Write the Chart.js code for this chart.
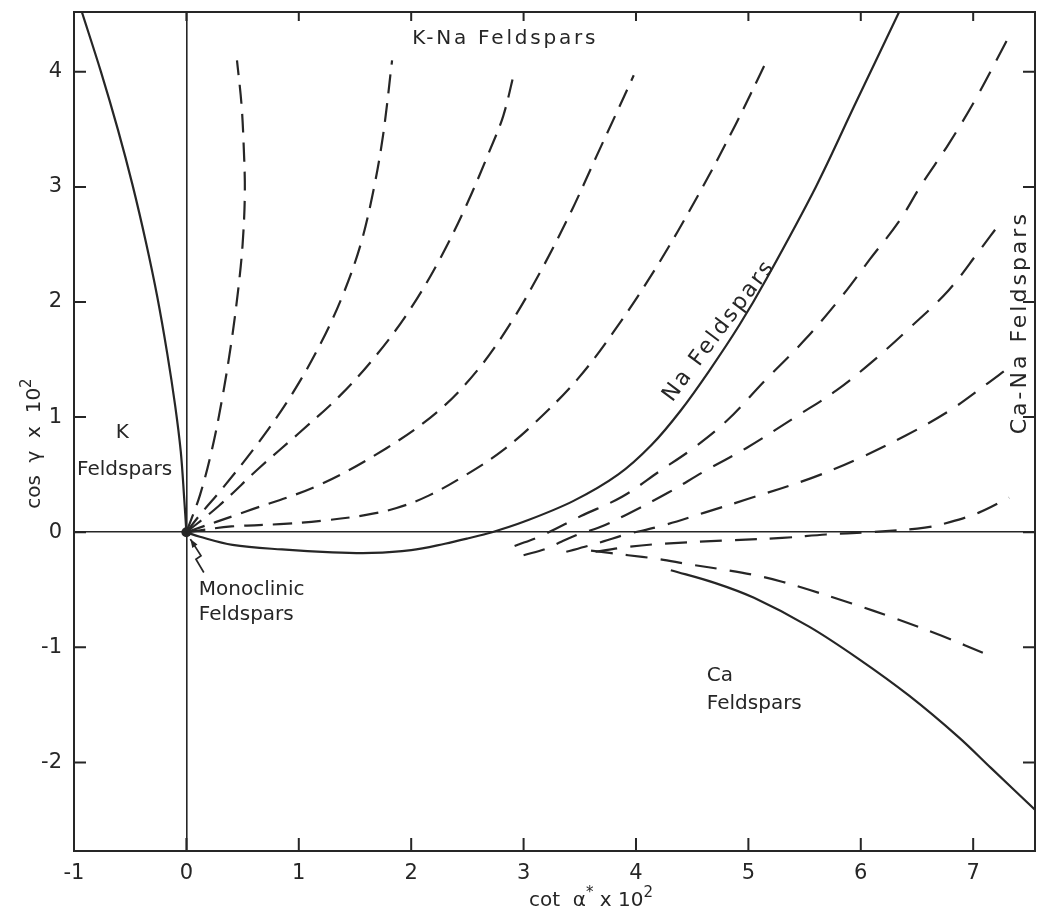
<!DOCTYPE html>
<html>
<head>
<meta charset="utf-8">
<script src="https://cdn.jsdelivr.net/npm/chart.js@4.4.0/dist/chart.umd.min.js"></script>
<style>
  html, body { margin: 0; padding: 0; background: #fff; }
</style>
</head>
<body>
<canvas id="feldsparChart" width="1040" height="912"></canvas>
<script>
// tick values on both axes
var xTicks = [-1, 0, 1, 2, 3, 4, 5, 6, 7];
var yTicks = [-2, -1, 0, 1, 2, 3, 4];

// solid boundary curves, [cot a* x 10^2, cos y x 10^2]
var kFeldspars = [[-0.93, 4.52], [-0.76, 4.0], [-0.61, 3.5], [-0.48, 3.02], [-0.36, 2.52], [-0.26, 2.05], [-0.17, 1.55], [-0.1, 1.1], [-0.05, 0.7], [-0.02, 0.3], [0, 0]];
var naFeldspars = [[0, 0], [0.12, -0.04], [0.41, -0.11], [0.85, -0.15], [1.3, -0.175], [1.65, -0.18], [2.0, -0.155], [2.3, -0.1], [2.5, -0.055], [2.72, 0], [3.0, 0.09], [3.44, 0.27], [3.84, 0.50], [4.14, 0.76], [4.4, 1.06], [4.65, 1.4], [4.92, 1.8], [5.16, 2.2], [5.6, 3.0], [5.95, 3.72], [6.38, 4.6]];
var caFeldspars = [[4.31, -0.33], [4.7, -0.44], [5.05, -0.57], [5.54, -0.82], [5.98, -1.1], [6.43, -1.42], [6.87, -1.78], [7.16, -2.05], [7.56, -2.42]];

// dashed K-Na series fanning out of the origin
var knA = [[0, 0], [0.12, 0.32], [0.23, 0.73], [0.32, 1.17], [0.4, 1.65], [0.46, 2.1], [0.5, 2.5], [0.52, 2.95], [0.51, 3.35], [0.49, 3.72], [0.45, 4.1]];
var knB = [[0, 0], [0.12, 0.15], [0.32, 0.38], [0.65, 0.79], [0.94, 1.2], [1.2, 1.65], [1.4, 2.08], [1.55, 2.5], [1.66, 2.95], [1.75, 3.45], [1.83, 4.1]];
var knC = [[0, 0], [0.29, 0.23], [0.65, 0.56], [1.0, 0.86], [1.36, 1.18], [1.7, 1.55], [2.0, 1.95], [2.27, 2.4], [2.5, 2.86], [2.7, 3.32], [2.82, 3.62], [2.92, 4.01]];
var knD = [[0, 0], [0.53, 0.18], [1.18, 0.41], [1.78, 0.73], [2.25, 1.06], [2.6, 1.42], [2.9, 1.84], [3.17, 2.3], [3.43, 2.8], [3.65, 3.27], [3.83, 3.65], [3.98, 3.97]];
var knE = [[0, 0], [0.4, 0.05], [0.83, 0.07], [1.21, 0.10], [1.6, 0.15], [1.87, 0.21], [2.16, 0.32], [2.49, 0.5], [2.8, 0.7], [3.1, 0.95], [3.48, 1.33], [3.8, 1.74], [4.18, 2.3], [4.56, 2.94], [4.89, 3.55], [5.14, 4.05]];

// dashed Ca-Na series on the right
var cnF = [[2.92, -0.12], [3.16, -0.03], [3.51, 0.14], [3.88, 0.31], [4.21, 0.53], [4.51, 0.73], [4.81, 0.97], [5.14, 1.31], [5.51, 1.68], [5.84, 2.06], [6.08, 2.37], [6.34, 2.7], [6.54, 3.02], [6.78, 3.37], [7.02, 3.76], [7.32, 4.31]];
var cnG = [[3.0, -0.2], [3.21, -0.14], [3.34, -0.08], [3.51, -0.01], [3.67, 0.04], [3.91, 0.15], [4.28, 0.34], [4.61, 0.53], [4.98, 0.73], [5.45, 1.02], [5.78, 1.23], [6.1, 1.48], [6.43, 1.77], [6.78, 2.1], [7.05, 2.44], [7.25, 2.7]];
var cnH = [[3.38, -0.17], [3.57, -0.12], [3.71, -0.08], [3.91, -0.02], [4.21, 0.05], [4.61, 0.17], [5.0, 0.29], [5.56, 0.47], [5.98, 0.64], [6.4, 0.84], [6.78, 1.05], [7.11, 1.28], [7.29, 1.41]];
var cnI = [[3.64, -0.17], [3.91, -0.13], [4.24, -0.1], [4.85, -0.07], [5.3, -0.05], [5.69, -0.02], [6.07, 0], [6.57, 0.04], [6.8, 0.09], [7.05, 0.17], [7.32, 0.3]];
var cnJ = [[3.6, -0.16], [3.93, -0.2], [4.18, -0.23], [4.48, -0.28], [4.81, -0.33], [5.09, -0.38], [5.3, -0.43], [5.54, -0.5], [5.92, -0.62], [6.31, -0.75], [6.72, -0.9], [7.14, -1.07]];

var ink = '#262626';
var fontFamily = '"DejaVu Sans", sans-serif';

function pts(arr) {
    return arr.map(function (p) { return { x: p[0], y: p[1] }; });
}

function curve(arr, dash) {
    return {
        data: pts(arr),
        showLine: true,
        borderColor: ink,
        borderWidth: 2.2,
        borderDash: dash || [],
        pointRadius: 0,
        tension: 0.35,
        fill: false
    };
}

var fanDash = [19, 10];
var rightDash = [22, 13];

var datasets = [
    curve(kFeldspars), curve(naFeldspars), curve(caFeldspars),
    curve(knA, fanDash), curve(knB, fanDash), curve(knC, fanDash), curve(knD, fanDash), curve(knE, fanDash),
    curve(cnF, rightDash), curve(cnG, rightDash), curve(cnH, rightDash), curve(cnI, rightDash), curve(cnJ, rightDash),
    { data: [{ x: 0, y: 0 }], pointRadius: 5, pointBackgroundColor: ink, pointBorderWidth: 0, showLine: false }
];

// text placed in data units
var notes = [
    { text: 'K-Na Feldspars', x: 2.01, y: 4.29, align: 'left', spacing: '2.8px' },
    { text: 'K', x: -0.57, y: 0.86, align: 'center' },
    { text: 'Feldspars', x: -0.55, y: 0.54, align: 'center' },
    { text: 'Monoclinic', x: 0.11, y: -0.5, align: 'left' },
    { text: 'Feldspars', x: 0.11, y: -0.72, align: 'left' },
    { text: 'Ca', x: 4.63, y: -1.25, align: 'left' },
    { text: 'Feldspars', x: 4.63, y: -1.49, align: 'left' },
    { text: 'Na Feldspars', x: 4.74, y: 1.75, align: 'center', angle: -53, spacing: '2.5px', size: 22 },
    { text: 'Ca-Na Feldspars', x: 7.42, y: 1.82, align: 'center', angle: -90, spacing: '3px', size: 22 }
];
var arrowPath = [[0.155, -0.35], [0.085, -0.235], [0.13, -0.205], [0.035, -0.06]];

function drawRich(c, parts, x, y) {
    // parts: [text, raised?]; x is the centre of the whole string
    var total = 0;
    parts.forEach(function (p) {
        c.font = (p[1] ? '15px ' : '20px ') + fontFamily;
        total += c.measureText(p[0]).width;
    });
    var cx = x - total / 2;
    parts.forEach(function (p) {
        c.font = (p[1] ? '15px ' : '20px ') + fontFamily;
        c.fillText(p[0], cx, p[1] ? y - 9 : y);
        cx += c.measureText(p[0]).width;
    });
}

var decorations = {
    id: 'decorations',
    afterDraw: function (chart) {
        var c = chart.ctx, a = chart.chartArea, xs = chart.scales.x, ys = chart.scales.y;
        c.save();
        c.strokeStyle = ink;
        c.lineWidth = 2;
        c.strokeRect(a.left, a.top, a.right - a.left, a.bottom - a.top);
        c.beginPath();
        xTicks.forEach(function (v) {
            var px = xs.getPixelForValue(v);
            c.moveTo(px, a.bottom); c.lineTo(px, a.bottom - 13);
            c.moveTo(px, a.top); c.lineTo(px, a.top + 9);
        });
        yTicks.forEach(function (v) {
            var py = ys.getPixelForValue(v);
            c.moveTo(a.left, py); c.lineTo(a.left + 12, py);
            c.moveTo(a.right, py); c.lineTo(a.right - 12, py);
        });
        c.stroke();

        // annotations
        c.fillStyle = ink;
        c.textBaseline = 'middle';
        notes.forEach(function (n) {
            c.save();
            c.font = (n.size || 20) + 'px ' + fontFamily;
            c.letterSpacing = n.spacing || '0px';
            c.textAlign = n.align;
            c.translate(xs.getPixelForValue(n.x), ys.getPixelForValue(n.y));
            if (n.angle) c.rotate(n.angle * Math.PI / 180);
            c.fillText(n.text, 0, 0);
            c.restore();
        });

        // zigzag arrow to the origin
        c.lineWidth = 1.7;
        c.beginPath();
        arrowPath.forEach(function (p, i) {
            var px = xs.getPixelForValue(p[0]), py = ys.getPixelForValue(p[1]);
            if (i === 0) c.moveTo(px, py); else c.lineTo(px, py);
        });
        c.stroke();
        var tip = arrowPath[arrowPath.length - 1], prev = arrowPath[arrowPath.length - 2];
        var tx = xs.getPixelForValue(tip[0]), ty = ys.getPixelForValue(tip[1]);
        var ang = Math.atan2(ty - ys.getPixelForValue(prev[1]), tx - xs.getPixelForValue(prev[0]));
        c.beginPath();
        c.moveTo(tx, ty);
        c.lineTo(tx - 9 * Math.cos(ang - 0.35), ty - 9 * Math.sin(ang - 0.35));
        c.lineTo(tx - 9 * Math.cos(ang + 0.35), ty - 9 * Math.sin(ang + 0.35));
        c.closePath();
        c.fill();

        // axis titles
        c.textAlign = 'left';
        c.textBaseline = 'alphabetic';
        drawRich(c, [['cot  \u03b1', false], ['*', true], [' x 10', false], ['2', true]], xs.getPixelForValue(3.6), a.bottom + 55);
        c.translate(40, ys.getPixelForValue(0.77));
        c.rotate(-Math.PI / 2);
        drawRich(c, [['cos  \u03b3  x  10', false], ['2', true]], 0, 0);
        c.restore();
    }
};

var ctx = document.getElementById('feldsparChart').getContext('2d');
var chart = new Chart(ctx, {
    type: 'scatter',
    data: { datasets: datasets },
    options: {
        responsive: false,
        animation: false,
        layout: { padding: { top: 12, right: 3, left: 0, bottom: 0 } },
        plugins: { legend: { display: false }, tooltip: { enabled: false } },
        scales: {
            x: {
                type: 'linear',
                min: -1,
                max: 7.55,
                afterBuildTicks: function (s) { s.ticks = xTicks.map(function (v) { return { value: v }; }); },
                afterFit: function (s) { s.height = 61; s.paddingLeft = 0; s.paddingRight = 0; },
                grid: {
                    drawTicks: false,
                    lineWidth: 1.6,
                    color: function (c) { return c.tick && c.tick.value === 0 ? ink : 'rgba(0,0,0,0)'; }
                },
                border: { display: false },
                ticks: { padding: 10, color: ink, font: { family: fontFamily, size: 21 } }
            },
            y: {
                type: 'linear',
                min: -2.77,
                max: 4.52,
                afterBuildTicks: function (s) { s.ticks = yTicks.map(function (v) { return { value: v }; }); },
                afterFit: function (s) { s.width = 74; s.paddingTop = 0; s.paddingBottom = 0; },
                grid: {
                    drawTicks: false,
                    lineWidth: 1.6,
                    color: function (c) { return c.tick && c.tick.value === 0 ? ink : 'rgba(0,0,0,0)'; }
                },
                border: { display: false },
                ticks: { padding: 12, color: ink, font: { family: fontFamily, size: 21 } }
            }
        }
    },
    plugins: [decorations]
});
</script>
</body>
</html>
